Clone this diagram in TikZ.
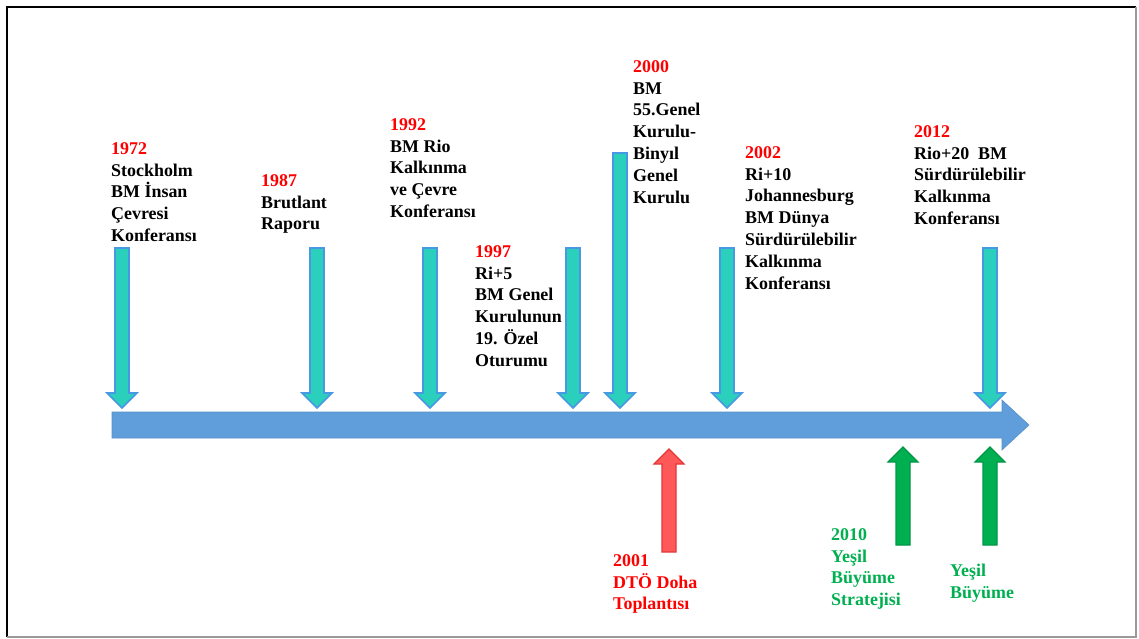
\documentclass[tikz,border=0pt]{standalone}
\usepackage{fontspec}
\setmainfont{Liberation Serif}

\newcommand{\yearlbl}[1]{\textcolor{yrRed}{#1}}

\begin{document}
\begin{tikzpicture}[
    x=0.03cm, y=-0.03cm,
    font=\bfseries\fontsize{15.3}{18.7}\selectfont,
    lbl/.style={anchor=north west, inner sep=0pt, align=left},
    mainarrow/.style={fill=mainB, draw=mainB!92!black, line width=0.5pt},
    downarrow/.style={fill=tq, draw=tqB, line width=1.3pt},
    redarrow/.style={fill=upR, draw=upRd, line width=1pt},
    greenarrow/.style={fill=upG, draw=upGd, line width=1pt},
]

\definecolor{mainB}{RGB}{95,158,218}
\definecolor{tq}{RGB}{42,208,188}
\definecolor{tqB}{RGB}{72,152,228}
\definecolor{upR}{RGB}{255,88,88}
\definecolor{upRd}{RGB}{225,55,55}
\definecolor{upG}{RGB}{0,176,80}
\definecolor{upGd}{RGB}{0,150,70}
\definecolor{yrRed}{RGB}{255,0,0}
\definecolor{grText}{RGB}{0,176,80}

\useasboundingbox (0,0) rectangle (1139,639);

% ===== frame =====
\draw[line width=2.4pt, black] (7,637) -- (7,7) -- (1136,7);
\draw[line width=0.9pt, black!40] (1136,7) -- (1136,637) -- (7,637);

% ===== time axis =====
\draw[mainarrow] (112,412) -- (1002,412) -- (1002,400) -- (1029,425)
    -- (1002,450) -- (1002,438) -- (112,438) -- cycle;

% Events above the axis (x centre / top of shaft)
\foreach \x/\t in {122/248, 317/248, 430/248, 573/248, 620/153, 727/248, 990/248} {
    \draw[downarrow] (\x-7,\t) -- (\x+7,\t) -- (\x+7,393) -- (\x+15,393)
        -- (\x,408) -- (\x-15,393) -- (\x-7,393) -- cycle;
}

% Events below the axis (x centre / tip / foot / style)
\foreach \x/\t/\b/\s in {669/449/552/redarrow, 903/447/545/greenarrow, 990/447/545/greenarrow} {
    \draw[\s] (\x-7,\b) -- (\x+7,\b) -- (\x+7,\t+15) -- (\x+15,\t+15)
        -- (\x,\t) -- (\x-15,\t+15) -- (\x-7,\t+15) -- cycle;
}

% ===== labels above =====
\node[lbl] (lbl1972) at (111,142) {\yearlbl{1972}\\Stockholm\\BM İnsan\\Çevresi\\Konferansı};
\node[lbl] (lbl1987) at (261,174) {\yearlbl{1987}\\Brutlant\\Raporu};
\node[lbl] (lbl1992) at (390,118) {\yearlbl{1992}\\BM Rio\\Kalkınma\\ve Çevre\\Konferansı};
\node[lbl] (lbl1997) at (475,245) {\yearlbl{1997}\\Ri+5\\BM Genel\\Kurulunun\\19. Özel\\Oturumu};
\node[lbl] (lbl2000) at (633,60) {\yearlbl{2000}\\BM\\55.Genel\\Kurulu-\\Binyıl\\Genel\\Kurulu};
\node[lbl] (lbl2002) at (745,146) {\yearlbl{2002}\\Ri+10\\Johannesburg\\BM Dünya\\Sürdürülebilir\\Kalkınma\\Konferansı};
\node[lbl] (lbl2012) at (914,125) {\yearlbl{2012}\\Rio+20~ BM\\Sürdürülebilir\\Kalkınma\\Konferansı};

% ===== labels below =====
\node[lbl, text=yrRed] (lbl2001) at (613,554) {2001\\DTÖ Doha\\Toplantısı};
\node[lbl, text=grText] (lbl2010) at (831,528) {2010\\Yeşil\\Büyüme\\Stratejisi};
\node[lbl, text=grText] (lblyesil) at (950,564) {Yeşil\\Büyüme};

\end{tikzpicture}
\end{document}
